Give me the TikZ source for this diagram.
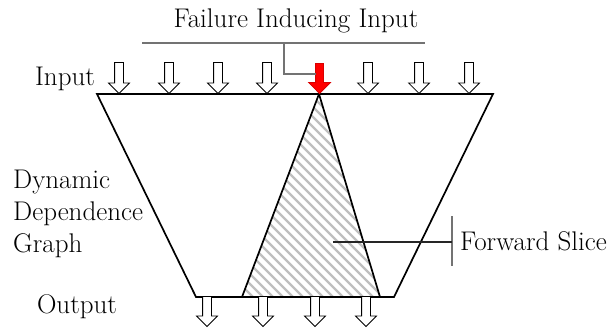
\documentclass[tikz,border=0pt]{standalone}
\usepackage{fontspec}
\usetikzlibrary{shapes.arrows, positioning}

\begin{document}
\begin{tikzpicture}[
  x=1pt, y=-1pt,
  every node/.style={font=\rmfamily\fontsize{27}{32}\selectfont, inner sep=0pt},
  graphline/.style = {line width=1.7pt, line join=miter},
  bracket/.style   = {draw=black!55, line width=1.2pt},
  leader/.style    = {draw=black!85, line width=1.2pt},
  hatch/.style     = {draw=gray!50, line width=2.4pt},
  inarrow/.style   = {shape=single arrow, shape border rotate=270, anchor=tip, draw=black, fill=white,
                      line width=0.8pt, inner sep=4pt, minimum height=31pt,
                      single arrow head extend=6pt, single arrow tip angle=90},
  failarrow/.style = {inarrow, fill=red, draw=red!85!black, inner sep=3.5pt,
                      single arrow head extend=7pt, minimum height=30pt}
]
\useasboundingbox (0,0) rectangle (613,330);

%% GRAPH OUTLINE
\coordinate (tl)   at ( 97, 94);
\coordinate (tr)   at (493, 94);
\coordinate (bl)   at (196,297);
\coordinate (br)   at (394,297);
\coordinate (apex) at (319, 94);
\coordinate (sbl)  at (242,297);
\coordinate (sbr)  at (380,297);

%% FORWARD SLICE (hatched)
\begin{scope}
  \clip (apex) -- (sbl) -- (sbr) -- cycle;
  \foreach \s in {30,40,...,390}
    \draw[hatch] (\s,94) -- ++(203,203);
\end{scope}

\draw[graphline] (tl) -- (tr) -- (br) -- (bl) -- cycle;
\draw[graphline] (sbl) -- (apex) -- (sbr);

%% INPUTS AND OUTPUTS
\foreach \x [count=\i] in {119,169,218,267}
  \node[inarrow] (in\i) at (\x,94) {};
\node[failarrow] (in5) at (319.5,94) {};
\foreach \x [count=\i from 6] in {368,419,469}
  \node[inarrow] (in\i) at (\x,94) {};
\foreach \x [count=\i] in {207,263,315,366}
  \node[inarrow, minimum height=30pt] (out\i) at (\x,327) {};

%% LABELS
\node[anchor=base]       (failure) at (296, 27) {Failure Inducing Input};
\node[anchor=base]       (input)   at ( 65, 85) {Input};
\node[anchor=north west, align=left] (ddg) at (13,170) {Dynamic\\Dependence\\Graph};
\node[anchor=base]       (output)  at ( 77,313) {Output};
\node[anchor=base west]  (slice)   at (460,250) {Forward Slice};

%% LEADERS
\coordinate (fail l)  at (142, 43);
\coordinate (fail r)  at (425, 43);
\coordinate (fail m)  at (284, 43);
\coordinate (redjoin) at (316, 74);
\draw[bracket] (fail l) -- (fail r);
\draw[bracket] (fail m) |- (redjoin);

\coordinate (slice top) at (452,216);
\coordinate (slice bot) at (452,266);
\coordinate (slice in)  at (333,242);
\draw[bracket] (slice top) -- (slice bot);
\draw[leader]  (slice in) -- (slice in -| slice top);
\end{tikzpicture}
\end{document}
